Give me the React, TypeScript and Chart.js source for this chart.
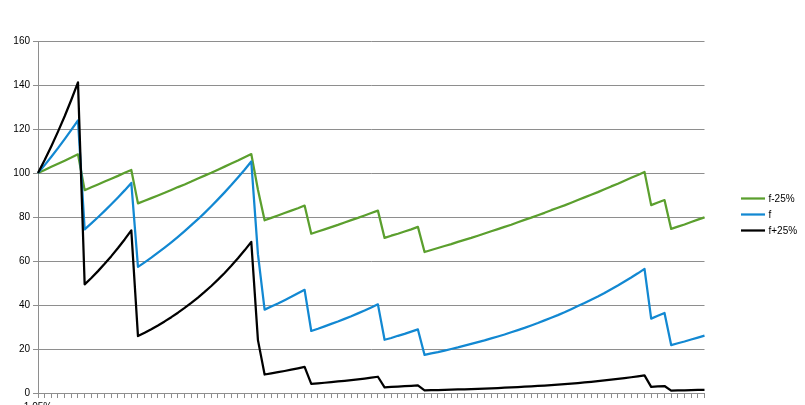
import React, { useEffect, useRef } from "react";
import { Chart, registerables } from "chart.js";

Chart.register(...registerables);

const categories: string[] = ["1.05%", ...Array(100).fill("")];

const seriesNames = ["f-25%", "f", "f+25%"];
const seriesColors = ["#5B9F2E", "#1288D2", "#000000"];

const fMinus25: number[] = [
  100.0, 101.4, 102.8, 104.2, 105.6, 107.0, 108.5, 92.2, 93.5, 94.8,
  96.1, 97.4, 98.7, 100.1, 101.4, 86.2, 87.4, 88.6, 89.8, 91.0,
  92.3, 93.6, 94.8, 96.1, 97.5, 98.8, 100.1, 101.5, 102.9, 104.3,
  105.7, 107.2, 108.6, 92.4, 78.5, 79.6, 80.7, 81.8, 82.9, 84.0,
  85.2, 72.4, 73.4, 74.4, 75.4, 76.4, 77.5, 78.6, 79.6, 80.7,
  81.8, 82.9, 70.5, 71.5, 72.4, 73.4, 74.4, 75.5, 64.1, 65.0,
  65.9, 66.8, 67.7, 68.7, 69.6, 70.5, 71.5, 72.5, 73.5, 74.5,
  75.5, 76.5, 77.6, 78.7, 79.7, 80.8, 81.9, 83.1, 84.2, 85.3,
  86.5, 87.7, 88.9, 90.1, 91.3, 92.6, 93.9, 95.1, 96.5, 97.8,
  99.1, 100.5, 85.4, 86.6, 87.7, 74.6, 75.6, 76.6, 77.7, 78.8,
  79.8,
];

const fBase: number[] = [
  100.0, 103.6, 107.4, 111.3, 115.4, 119.6, 123.9, 74.4, 77.1, 79.9,
  82.8, 85.8, 88.9, 92.1, 95.5, 57.3, 59.4, 61.5, 63.8, 66.1,
  68.5, 71.0, 73.6, 76.3, 79.0, 81.9, 84.9, 88.0, 91.2, 94.5,
  98.0, 101.5, 105.2, 63.1, 37.9, 39.3, 40.7, 42.2, 43.7, 45.3,
  46.9, 28.2, 29.2, 30.3, 31.4, 32.5, 33.7, 34.9, 36.2, 37.5,
  38.9, 40.3, 24.2, 25.0, 26.0, 26.9, 27.9, 28.9, 17.3, 18.0,
  18.6, 19.3, 20.0, 20.7, 21.5, 22.3, 23.1, 23.9, 24.8, 25.7,
  26.6, 27.6, 28.6, 29.6, 30.7, 31.8, 33.0, 34.2, 35.4, 36.7,
  38.1, 39.5, 40.9, 42.4, 43.9, 45.5, 47.2, 48.9, 50.7, 52.5,
  54.4, 56.4, 33.8, 35.1, 36.4, 21.8, 22.6, 23.4, 24.3, 25.2,
  26.1,
];

const fPlus25: number[] = [
  100.0, 105.9, 112.2, 118.8, 125.8, 133.3, 141.2, 49.4, 52.3, 55.4,
  58.7, 62.2, 65.9, 69.8, 73.9, 25.86, 27.39, 29.01, 30.72, 32.54,
  34.46, 36.5, 38.66, 40.95, 43.37, 45.94, 48.65, 51.53, 54.58, 57.81,
  61.23, 64.85, 68.69, 24.04, 8.41, 8.91, 9.44, 10.0, 10.59, 11.22,
  11.88, 4.16, 4.4, 4.66, 4.94, 5.23, 5.54, 5.87, 6.22, 6.58,
  6.97, 7.39, 2.59, 2.74, 2.9, 3.07, 3.25, 3.45, 1.21, 1.28,
  1.35, 1.43, 1.52, 1.61, 1.7, 1.8, 1.91, 2.02, 2.14, 2.27,
  2.4, 2.55, 2.7, 2.86, 3.02, 3.2, 3.39, 3.59, 3.81, 4.03,
  4.27, 4.52, 4.79, 5.07, 5.37, 5.69, 6.03, 6.38, 6.76, 7.16,
  7.59, 8.03, 2.81, 2.98, 3.16, 1.1, 1.17, 1.24, 1.31, 1.39,
  1.47,
];

const yTicksMin = 0;
const yTicksMax = 160;
const yTicksStep = 20;

const FONT = "'Liberation Sans', Arial, sans-serif";
const GRID = "#8e8e8e";

const legendPlugin = {
  id: "sideLegend",
  afterDraw(chart: any) {
    const { ctx, chartArea } = chart;
    const cy = (chartArea.top + chartArea.bottom) / 2 - 2.5;
    const x0 = chartArea.right + 36.5;
    const gap = 16;
    ctx.save();
    ctx.font = `10px ${FONT}`;
    ctx.textBaseline = "middle";
    ctx.textAlign = "left";
    seriesNames.forEach((name, i) => {
      const y = cy + (i - 1) * gap;
      ctx.strokeStyle = seriesColors[i];
      ctx.lineWidth = 2.25;
      ctx.beginPath();
      ctx.moveTo(x0, y);
      ctx.lineTo(x0 + 24, y);
      ctx.stroke();
      ctx.fillStyle = "#000";
      ctx.fillText(name, x0 + 27.5, y + 0.5);
    });
    ctx.restore();
  },
};

export default function App() {
  const ref = useRef<HTMLCanvasElement | null>(null);

  useEffect(() => {
    if (!ref.current) return;
    const data = [fMinus25, fBase, fPlus25];
    const chart = new Chart(ref.current, {
      type: "line",
      data: {
        labels: categories,
        datasets: data.map((d, i) => ({
          label: seriesNames[i],
          data: d,
          borderColor: seriesColors[i],
          backgroundColor: seriesColors[i],
          borderWidth: 2.25,
          pointRadius: 0,
          tension: 0,
          fill: false,
          order: 2 - i,
          borderJoinStyle: "round" as const,
        })),
      },
      options: {
        responsive: false,
        animation: false,
        layout: { padding: { left: 0, top: 41, right: 100.5, bottom: 0 } },
        plugins: {
          legend: { display: false },
          tooltip: { enabled: false },
          title: { display: false },
        },
        scales: {
          x: {
            type: "category",
            offset: false,
            grid: {
              drawOnChartArea: false,
              drawTicks: true,
              tickLength: 5,
              color: GRID,
              offset: false,
            },
            border: { color: GRID, width: 1 },
            ticks: {
              autoSkip: false,
              maxRotation: 0,
              minRotation: 0,
              padding: 3,
              color: "#000",
              font: { family: FONT, size: 10 },
              callback: (_v: any, i: number) => categories[i],
            },
            afterFit: (s: any) => {
              s.height = 27;
            },
          },
          y: {
            min: yTicksMin,
            max: yTicksMax,
            grid: { color: GRID, tickLength: 5, drawTicks: true },
            border: { color: GRID, width: 1 },
            ticks: {
              stepSize: yTicksStep,
              padding: 3,
              color: "#000",
              font: { family: FONT, size: 10 },
            },
            afterFit: (s: any) => {
              s.width = 38;
            },
          },
        },
      },
      plugins: [legendPlugin],
    });
    return () => chart.destroy();
  }, []);

  return (
    <div
      style={{
        position: "absolute",
        left: 0,
        top: 0,
        width: 805,
        height: 405,
        overflow: "hidden",
        background: "#fff",
      }}
    >
      <canvas ref={ref} width={805} height={420} style={{ display: "block" }} />
    </div>
  );
}
